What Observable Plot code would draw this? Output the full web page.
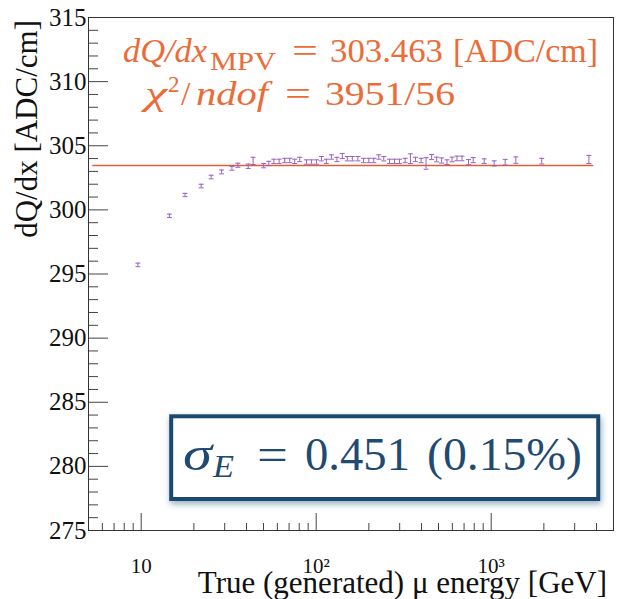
<!DOCTYPE html>
<html><head><meta charset="utf-8">
<script src="https://cdn.jsdelivr.net/npm/d3@7"></script>
<script src="https://cdn.jsdelivr.net/npm/@observablehq/plot@0.6"></script>
<style>body{margin:0;background:#fff} svg{display:block} svg text{font-family:"Liberation Serif","DejaVu Serif",serif}</style>
</head><body><div id="chart"></div>
<script>
// ---- data ----
const energy = [9.58, 14.5, 17.8, 22.0, 25.1, 28.8, 33.0, 35.7, 40.9, 43.6, 50.1, 53.6, 57.3, 61.4, 66.1, 70.6, 75.4, 80.5, 88.0, 93.9, 100.3, 107.1, 114.3, 122.1, 131.4, 141.1, 150.6, 160.9, 173.1, 186.5, 199.9, 213.4, 227.9, 243.4, 262.3, 280.2, 299.2, 322.4, 345.6, 369.0, 397.7, 424.6, 456.9, 487.9, 521.1, 559.3, 597.2, 637.7, 680.8, 742.5, 789.5, 912.6, 1040, 1202, 1383, 1945, 3617];
const dqdx = [295.71, 299.54, 301.16, 301.86, 302.56, 302.96, 303.24, 303.48, 303.40, 303.82, 303.45, 303.62, 303.78, 303.78, 303.85, 303.85, 303.78, 303.93, 303.73, 303.73, 303.73, 303.99, 303.78, 304.12, 303.93, 304.20, 303.99, 303.99, 303.99, 303.85, 303.85, 303.85, 304.12, 303.99, 303.78, 303.78, 303.78, 303.85, 303.99, 303.93, 303.85, 303.62, 304.12, 303.93, 303.85, 303.72, 303.93, 304.01, 304.01, 303.72, 303.88, 303.80, 303.62, 303.72, 303.88, 303.80, 303.93];
const dqdxErr = [0.14, 0.13, 0.13, 0.14, 0.14, 0.15, 0.15, 0.16, 0.17, 0.28, 0.17, 0.17, 0.17, 0.17, 0.17, 0.17, 0.17, 0.17, 0.17, 0.17, 0.17, 0.17, 0.17, 0.17, 0.17, 0.20, 0.17, 0.17, 0.17, 0.17, 0.17, 0.17, 0.17, 0.17, 0.17, 0.17, 0.17, 0.17, 0.38, 0.17, 0.17, 0.45, 0.20, 0.18, 0.20, 0.18, 0.18, 0.18, 0.18, 0.20, 0.20, 0.18, 0.20, 0.22, 0.25, 0.22, 0.32];
const fitMPV = 303.463;
const fitRange = [5.3, 3800];
const xDomain = [5, 5000];
const yDomain = [275, 315];
const yTicks = [275, 280, 285, 290, 295, 300, 305, 310, 315];
const yMinor = [276,277,278,279,281,282,283,284,286,287,288,289,291,292,293,294,296,297,298,299,301,302,303,304,306,307,308,309,311,312,313,314];
const xTicks = [10, 100, 1000];
const xTickLabels = ["10", "10²", "10³"];
const xMinor = [6,7,8,9,20,30,40,50,60,70,80,90,200,300,400,500,600,700,800,900,2000,3000,4000];

const points = energy.map((e, i) => ({e, v: dqdx[i], err: dqdxErr[i]}));
const fitLine = fitRange.map(e => ({e, v: fitMPV}));

const W = 619, H = 599, mL = 88, mR = 6, mT = 17, mB = 69;
const fw = W - mL - mR, fh = H - mT - mB;
const purple = "#9a5fc4", orange = "#ec6b37", navy = "#1f4a72", tickC = "#444";
const cap = {draw(ctx) { ctx.moveTo(-2.5, 0); ctx.lineTo(2.5, 0); }};
const ff = "Liberation Serif, DejaVu Serif, serif";

const plot = Plot.plot({
  width: W, height: H,
  marginLeft: mL, marginRight: mR, marginTop: mT, marginBottom: mB,
  style: {fontFamily: ff, background: "white", color: "#111"},
  x: {type: "log", domain: xDomain},
  y: {domain: yDomain},
  marks: [
    Plot.tickY(yTicks, {y: d => d, insetRight: fw - 20, stroke: tickC}),
    Plot.tickY(yMinor, {y: d => d, insetRight: fw - 10, stroke: tickC}),
    Plot.tickX(xTicks, {x: d => d, insetTop: fh - 17, stroke: tickC}),
    Plot.tickX(xMinor, {x: d => d, insetTop: fh - 7, stroke: tickC}),
    Plot.axisY(yTicks, {tickSize: 0, tickPadding: 2, fontSize: 25, label: null, tickFormat: d => String(d), fill: "#111"}),
    Plot.axisX(xTicks, {tickSize: 0, tickPadding: 28, fontSize: 21, label: null, tickFormat: d => xTickLabels[xTicks.indexOf(d)], fill: "#111"}),
    Plot.line(fitLine, {x: "e", y: "v", stroke: "#dc5f38", strokeWidth: 1.6}),
    Plot.ruleX(points, {x: "e", y1: d => d.v - d.err, y2: d => d.v + d.err, stroke: purple, strokeWidth: 1}),
    Plot.dot(points, {x: "e", y: d => d.v + d.err, symbol: cap, r: 3, stroke: purple, fill: "none", strokeWidth: 1}),
    Plot.dot(points, {x: "e", y: d => d.v - d.err, symbol: cap, r: 3, stroke: purple, fill: "none", strokeWidth: 1}),
    Plot.frame({stroke: "#333", strokeWidth: 1})
  ]
});
document.getElementById("chart").append(plot);

const svg = d3.select(plot);

// axis titles
svg.append("text").attr("transform", "translate(37,20) rotate(-90)")
  .attr("text-anchor", "end").attr("font-size", 31).attr("fill", "#111")
  .text("dQ/dx [ADC/cm]");
svg.append("text").attr("x", 607).attr("y", 593)
  .attr("text-anchor", "end").attr("font-size", 31).attr("fill", "#111")
  .text("True (generated) μ energy [GeV]");

// text segment helper (annotation layout)
function seg(x, y, str, size, color, {italic = false, len = null} = {}) {
  const t = svg.append("text").attr("x", x).attr("y", y).attr("text-anchor", "start")
    .attr("font-size", size).attr("fill", color).text(str);
  if (italic) t.attr("font-style", "italic");
  if (len) t.attr("textLength", len).attr("lengthAdjust", "spacingAndGlyphs");
  return t;
}

// fit annotation
seg(123, 62, "dQ/dx", 33, orange, {italic: true, len: 84});
seg(210, 70, "MPV", 25, orange, {len: 66});
seg(292, 62, "=", 33, orange, {len: 26});
seg(330, 62, "303.463", 33, orange, {len: 113});
seg(453, 62, "[ADC/cm]", 33, orange, {len: 145});

seg(145, 105, "χ", 34, orange, {italic: true, len: 22});
seg(168, 92, "2", 23, orange);
seg(181, 105, "/", 34, orange);
seg(196, 105, "ndof", 34, orange, {italic: true, len: 72});
seg(285, 105, "=", 33, orange, {len: 26});
seg(325, 105, "3951/56", 33, orange, {len: 130});

// sigma box
const defs = svg.append("defs");
const f = defs.append("filter").attr("id", "shadow").attr("x", "-10%").attr("y", "-20%").attr("width", "120%").attr("height", "150%");
f.append("feDropShadow").attr("dx", 1).attr("dy", 3).attr("stdDeviation", 3).attr("flood-color", navy).attr("flood-opacity", 0.45);
svg.append("rect").attr("x", 171.2).attr("y", 416.3).attr("width", 427).attr("height", 82.7)
  .attr("fill", "white").attr("stroke", navy).attr("stroke-width", 4).attr("filter", "url(#shadow)");
seg(183, 470, "σ", 48, navy, {italic: true, len: 29});
seg(213, 477, "E", 32, navy, {italic: true, len: 21});
seg(257, 470, "=", 46, navy, {len: 31});
seg(305, 470, "0.451", 46, navy, {len: 105});
seg(427, 470, "(0.15%)", 46, navy, {len: 155});

svg.selectAll("text").attr("font-family", ff);
</script>
</body></html>
